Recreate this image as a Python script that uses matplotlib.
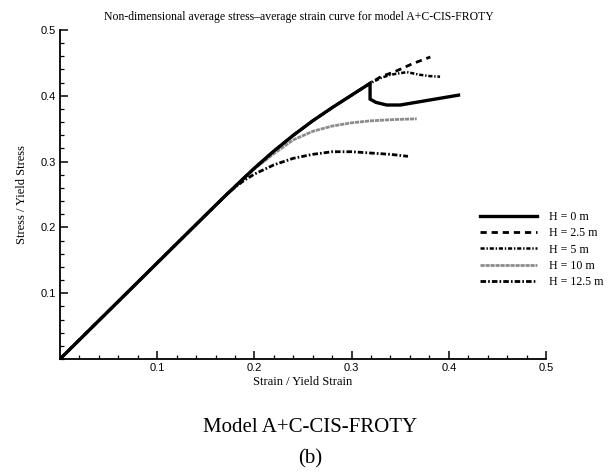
import matplotlib
matplotlib.use("Agg")
import matplotlib.pyplot as plt
from matplotlib.ticker import MultipleLocator, FixedLocator

plt.rcParams['lines.scale_dashes'] = False

# ---- data ----
base_x = [0.0, 0.05, 0.10, 0.15, 0.17]
base_y = [0.0, 0.073, 0.146, 0.219, 0.248]

top_x = [0.18, 0.20, 0.22, 0.24, 0.26, 0.28, 0.30, 0.319]
top_y = [0.262, 0.290, 0.316, 0.340, 0.362, 0.382, 0.401, 0.419]

h0_x = base_x + top_x + [0.319, 0.325, 0.336, 0.35, 0.37, 0.39, 0.41]
h0_y = base_y + top_y + [0.395, 0.390, 0.386, 0.386, 0.391, 0.396, 0.401]

h25_x = base_x + top_x + [0.33, 0.345, 0.363, 0.381]
h25_y = base_y + top_y + [0.429, 0.437, 0.449, 0.459]

h5_x = base_x + top_x + [0.33, 0.34, 0.357, 0.37, 0.38, 0.391]
h5_y = base_y + top_y + [0.427, 0.432, 0.436, 0.432, 0.430, 0.429]

h10_x = base_x + [0.18, 0.19, 0.20, 0.22, 0.24, 0.26, 0.28, 0.30, 0.32, 0.345, 0.367]
h10_y = base_y + [0.262, 0.277, 0.289, 0.312, 0.333, 0.346, 0.354, 0.359, 0.362, 0.364, 0.365]

h125_x = base_x + [0.18, 0.19, 0.20, 0.22, 0.24, 0.26, 0.28, 0.30, 0.32, 0.34, 0.358]
h125_y = base_y + [0.261, 0.272, 0.281, 0.295, 0.305, 0.311, 0.315, 0.315, 0.313, 0.311, 0.308]

labels = ["H = 0 m", "H = 2.5 m", "H = 5 m", "H = 10 m", "H = 12.5 m"]
x_ticks = [0.1, 0.2, 0.3, 0.4, 0.5]
y_ticks = [0.1, 0.2, 0.3, 0.4, 0.5]

title = "Non-dimensional average stress\u2013average strain curve for model A+C-CIS-FROTY"
xlabel = "Strain / Yield Strain"
ylabel = "Stress / Yield Stress"
caption1 = "Model A+C-CIS-FROTY"
caption2 = "(b)"

serif = ['Liberation Serif', 'DejaVu Serif']
sans = ['Liberation Sans', 'DejaVu Sans']

fig = plt.figure(figsize=(6.10, 4.74), dpi=100)
ax = fig.add_axes([60/610, 1-359/474, (546-60)/610, (359-30)/474])

ax.plot(h0_x, h0_y, color='black', lw=2.4, solid_joinstyle='miter', label=labels[0], zorder=5)
ax.plot(h25_x, h25_y, color='black', lw=2.0, dashes=(4.5, 3.5), label=labels[1], zorder=4)
ax.plot(h5_x, h5_y, color='black', lw=1.8, dashes=(3.0, 1.3, 1.0, 1.3), label=labels[2], zorder=3)
ax.plot(h10_x, h10_y, color='#8c8c8c', lw=2.0, dashes=(3.0, 0.6), label=labels[3], zorder=2)
ax.plot(h125_x, h125_y, color='black', lw=2.0, dashes=(4.0, 1.5, 1.2, 1.5), label=labels[4], zorder=1)

ax.set_xlim(0, 0.5)
ax.set_ylim(0, 0.5)
ax.xaxis.set_major_locator(FixedLocator(x_ticks))
ax.yaxis.set_major_locator(FixedLocator(y_ticks))
ax.xaxis.set_minor_locator(MultipleLocator(0.02))
ax.yaxis.set_minor_locator(MultipleLocator(0.02))
ax.set_xticklabels([f"{v:g}" for v in x_ticks], family=sans, fontsize=8)
ax.set_yticklabels([f"{v:g}" for v in y_ticks], family=sans, fontsize=8)
ax.tick_params(which='major', direction='in', length=6, width=1.1, pad=3)
ax.tick_params(which='minor', direction='in', length=3, width=0.9)
for s in ['top', 'right']:
    ax.spines[s].set_visible(False)
for s in ['left', 'bottom']:
    ax.spines[s].set_linewidth(1.3)

ax.set_xlabel(xlabel, family=serif, fontsize=9, labelpad=2)
ax.set_ylabel(ylabel, family=serif, fontsize=9, labelpad=9)

fig.text(0.49, 1-17/474, title, family=serif, fontsize=8.5, ha='center', va='center')
fig.text(310/610, 1-427/474, caption1, family=serif, fontsize=15, ha='center', va='center')
fig.text(310/610, 1-459/474, caption2, family=serif, fontsize=15, ha='center', va='center')

leg = ax.legend(loc='upper left', bbox_to_anchor=(0.864, 0.45), frameon=False,
                prop={'family': serif, 'size': 8.6}, handlelength=4.8,
                handletextpad=1.0, labelspacing=0.36, borderpad=0, borderaxespad=0)

fig.savefig("out.png", dpi=100)
